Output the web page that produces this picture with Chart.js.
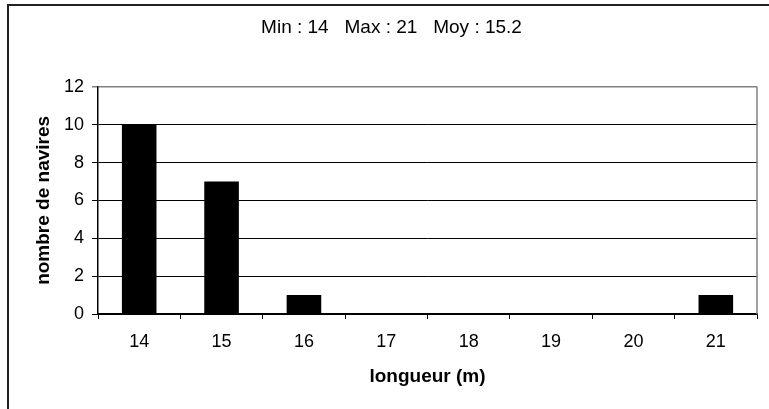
<!DOCTYPE html>
<html>
<head>
<meta charset="utf-8">
<title>Longueur des navires</title>
<script src="https://cdn.jsdelivr.net/npm/chart.js@4/dist/chart.umd.min.js"></script>
<style>
  html, body { margin: 0; padding: 0; background: #fff; }
  canvas { display: block; }
</style>
</head>
<body>
<canvas id="lengthChart" width="769" height="409"></canvas>
<script>
// longueur (m) -> nombre de navires
const lengths = ['14', '15', '16', '17', '18', '19', '20', '21'];
const shipCounts = [10, 7, 1, 0, 0, 0, 0, 1];
const yTicks = [0, 2, 4, 6, 8, 10, 12];
const summary = 'Min : 14   Max : 21   Moy : 15.2';

Chart.defaults.font.family = "'Liberation Sans', Arial, sans-serif";
Chart.defaults.font.size = 18;
Chart.defaults.color = '#000';

// white background, outer frame (top + left edges) and the grey right edge of the plot area
const frame = {
  id: 'frame',
  beforeDraw(chart) {
    const ctx = chart.ctx;
    ctx.save();
    ctx.fillStyle = '#fff';
    ctx.fillRect(0, 0, chart.width, chart.height);
    ctx.strokeStyle = '#222';
    ctx.lineWidth = 2;
    ctx.beginPath();
    ctx.moveTo(8, chart.height);
    ctx.lineTo(8, 5);
    ctx.lineTo(chart.width, 5);
    ctx.stroke();
    ctx.restore();
  },
  afterDatasetsDraw(chart) {
    const { ctx, chartArea } = chart;
    ctx.save();
    ctx.strokeStyle = '#808080';
    ctx.lineWidth = 1.5;
    ctx.beginPath();
    ctx.moveTo(chartArea.right, chartArea.top);
    ctx.lineTo(chartArea.right, chartArea.bottom);
    ctx.stroke();
    ctx.restore();
  }
};

const ctx = document.getElementById('lengthChart').getContext('2d');
new Chart(ctx, {
  type: 'bar',
  data: {
    labels: lengths,
    datasets: [{
      data: shipCounts,
      backgroundColor: '#000',
      borderWidth: 0,
      barPercentage: 0.42,
      categoryPercentage: 1
    }]
  },
  options: {
    responsive: false,
    animation: false,
    layout: { padding: { left: 26, right: 12, top: 0, bottom: 0 } },
    plugins: {
      legend: { display: false },
      tooltip: { enabled: false },
      title: {
        display: true,
        text: summary,
        font: { size: 19, weight: 'normal' },
        padding: { top: 16, bottom: 48 }
      }
    },
    scales: {
      x: {
        offset: true,
        grid: {
          offset: true,
          drawOnChartArea: false,
          color: '#000',
          tickLength: 5
        },
        border: { color: '#000', width: 1.5 },
        ticks: { padding: 12, font: { size: 18 } },
        title: {
          display: true,
          text: 'longueur (m)',
          font: { size: 19, weight: 'bold' },
          padding: { top: 0, bottom: 21 }
        },
        afterFit(scale) { scale.height = 95; }
      },
      y: {
        min: 0,
        max: 12,
        afterBuildTicks(scale) { scale.ticks = yTicks.map(v => ({ value: v })); },
        grid: {
          color: ctx => ctx.tick && ctx.tick.value === 12 ? '#808080' : '#000',
          lineWidth: ctx => ctx.tick && ctx.tick.value === 12 ? 1.5 : 1,
          tickLength: 6
        },
        border: { color: '#000', width: 1.5 },
        ticks: { padding: 8, font: { size: 18 } },
        title: {
          display: true,
          text: 'nombre de navires',
          font: { size: 19, weight: 'bold' },
          padding: { top: 6, bottom: 0 }
        },
        afterFit(scale) { scale.width = 72; }
      }
    }
  },
  plugins: [frame]
});
</script>
</body>
</html>
